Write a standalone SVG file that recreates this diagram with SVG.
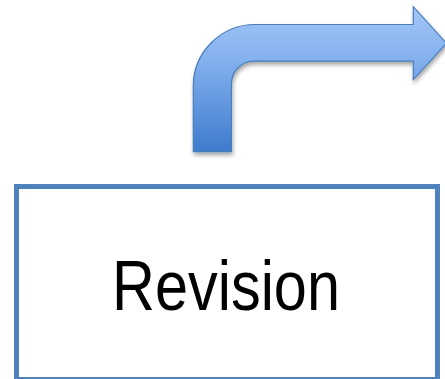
<svg xmlns="http://www.w3.org/2000/svg" width="445" height="379" viewBox="0 0 445 379">
  <style>
    .box { fill: #ffffff; stroke: #4f81bd; stroke-width: 5; }
    .label { font-family: "Liberation Sans", Arial, sans-serif; font-size: 71px; fill: #000000; }
    .bent { fill: url(#bentFill); stroke: #4a7ebb; stroke-width: 1.2; stroke-linejoin: miter; }
  </style>
  <defs>
    <linearGradient id="bentFill" gradientUnits="userSpaceOnUse" x1="0" y1="6" x2="0" y2="152">
      <stop offset="0" stop-color="#a3c6f7"/>
      <stop offset="0.35" stop-color="#86b2ef"/>
      <stop offset="1" stop-color="#3e7bcd"/>
    </linearGradient>
    <filter id="softShadow" x="-10%" y="-10%" width="130%" height="130%">
      <feGaussianBlur in="SourceAlpha" stdDeviation="2"/>
      <feOffset dx="0.5" dy="2.5" result="blur"/>
      <feComponentTransfer><feFuncA type="linear" slope="0.35"/></feComponentTransfer>
      <feMerge><feMergeNode/><feMergeNode in="SourceGraphic"/></feMerge>
    </filter>
  </defs>

  <g id="connectors">
    <!-- bent-up arrow leaving the top of the box and heading right -->
    <path class="bent" filter="url(#softShadow)"
          d="M193.3,151.7 V86 A61.8,61.8 0 0 1 255.1,24.5 H413.3 V6.7 L446.5,43.2 L413.3,79.8 V61.2 H254 A22.5,22.5 0 0 0 231.5,83.7 V151.7 Z"/>
  </g>

  <g id="revision">
    <rect class="box" x="16.5" y="186.5" width="421" height="193"/>
    <text class="label" x="226" y="310" text-anchor="middle" textLength="228" lengthAdjust="spacingAndGlyphs">Revision</text>
  </g>
</svg>
